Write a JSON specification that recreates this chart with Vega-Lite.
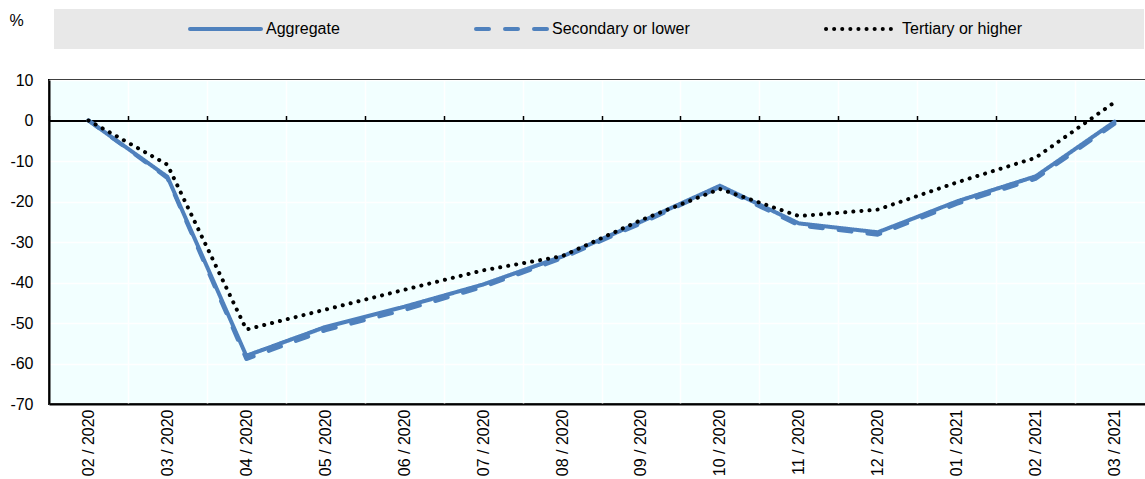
{
  "$schema": "https://vega.github.io/schema/vega-lite/v6.json",
  "width": 1097,
  "height": 324,
  "autosize": {"type": "none"},
  "padding": {"left": 49, "top": 80, "right": -1, "bottom": 75},
  "background": "white",
  "config": {
    "font": "Liberation Sans",
    "view": {"fill": "#f2ffff", "stroke": "black", "strokeWidth": 2},
    "axis": {"labelFont": "Liberation Sans", "labelFontSize": 16, "labelColor": "black", "titleFont": "Liberation Sans", "titleColor": "black"},
    "legend": {"labelFont": "Liberation Sans", "labelFontSize": 16, "labelColor": "black", "titleFont": "Liberation Sans", "titleFontSize": 16}
  },
  "data": {
    "values": [
      {"month": "02 / 2020", "series": "Secondary or lower", "value": 0},
      {"month": "03 / 2020", "series": "Secondary or lower", "value": -14.2},
      {"month": "04 / 2020", "series": "Secondary or lower", "value": -58.9},
      {"month": "05 / 2020", "series": "Secondary or lower", "value": -51.8},
      {"month": "06 / 2020", "series": "Secondary or lower", "value": -46.8},
      {"month": "07 / 2020", "series": "Secondary or lower", "value": -41.1},
      {"month": "08 / 2020", "series": "Secondary or lower", "value": -34},
      {"month": "09 / 2020", "series": "Secondary or lower", "value": -25.4},
      {"month": "10 / 2020", "series": "Secondary or lower", "value": -16.4},
      {"month": "11 / 2020", "series": "Secondary or lower", "value": -25.9},
      {"month": "12 / 2020", "series": "Secondary or lower", "value": -28.2},
      {"month": "01 / 2021", "series": "Secondary or lower", "value": -20.6},
      {"month": "02 / 2021", "series": "Secondary or lower", "value": -14.4},
      {"month": "03 / 2021", "series": "Secondary or lower", "value": -0.8},
      {"month": "02 / 2020", "series": "Aggregate", "value": 0},
      {"month": "03 / 2020", "series": "Aggregate", "value": -13.9},
      {"month": "04 / 2020", "series": "Aggregate", "value": -58.1},
      {"month": "05 / 2020", "series": "Aggregate", "value": -51},
      {"month": "06 / 2020", "series": "Aggregate", "value": -46},
      {"month": "07 / 2020", "series": "Aggregate", "value": -40.5},
      {"month": "08 / 2020", "series": "Aggregate", "value": -33.6},
      {"month": "09 / 2020", "series": "Aggregate", "value": -25},
      {"month": "10 / 2020", "series": "Aggregate", "value": -16.1},
      {"month": "11 / 2020", "series": "Aggregate", "value": -25.4},
      {"month": "12 / 2020", "series": "Aggregate", "value": -27.6},
      {"month": "01 / 2021", "series": "Aggregate", "value": -20},
      {"month": "02 / 2021", "series": "Aggregate", "value": -13.8},
      {"month": "03 / 2021", "series": "Aggregate", "value": -0.3},
      {"month": "02 / 2020", "series": "Tertiary or higher", "value": 0},
      {"month": "03 / 2020", "series": "Tertiary or higher", "value": -10.9},
      {"month": "04 / 2020", "series": "Tertiary or higher", "value": -51.6},
      {"month": "05 / 2020", "series": "Tertiary or higher", "value": -46.7},
      {"month": "06 / 2020", "series": "Tertiary or higher", "value": -41.8},
      {"month": "07 / 2020", "series": "Tertiary or higher", "value": -37},
      {"month": "08 / 2020", "series": "Tertiary or higher", "value": -33.5},
      {"month": "09 / 2020", "series": "Tertiary or higher", "value": -24.6},
      {"month": "10 / 2020", "series": "Tertiary or higher", "value": -16.9},
      {"month": "11 / 2020", "series": "Tertiary or higher", "value": -23.6},
      {"month": "12 / 2020", "series": "Tertiary or higher", "value": -22},
      {"month": "01 / 2021", "series": "Tertiary or higher", "value": -15.3},
      {"month": "02 / 2021", "series": "Tertiary or higher", "value": -9.2},
      {"month": "03 / 2021", "series": "Tertiary or higher", "value": 4.5}
    ]
  },
  "layer": [
    {
      "mark": {"type": "line", "strokeCap": "round", "strokeJoin": "round"},
      "encoding": {
        "x": {
          "field": "month", "type": "ordinal", "bandPosition": 0.5,
          "sort": ["02 / 2020", "03 / 2020", "04 / 2020", "05 / 2020", "06 / 2020", "07 / 2020", "08 / 2020", "09 / 2020", "10 / 2020", "11 / 2020", "12 / 2020", "01 / 2021", "02 / 2021", "03 / 2021"],
          "scale": {"type": "band", "paddingInner": 0, "paddingOuter": 0, "range": [0, 1105]},
          "axis": {"orient": "bottom", "title": null, "labelAngle": -90, "labelPadding": 5, "ticks": false, "tickSize": 0, "domainColor": "black", "domainWidth": 2, "grid": true, "gridColor": "white", "gridWidth": 1.5, "tickBand": "extent"}
        },
        "y": {
          "field": "value", "type": "quantitative",
          "scale": {"domain": [-70, 10], "nice": false},
          "axis": {"title": "%", "titleAngle": 0, "titleX": -33, "titleY": -60, "titleAlign": "center", "titleBaseline": "middle", "titleFontSize": 16, "titleFontWeight": "normal", "values": [-70, -60, -50, -40, -30, -20, -10, 0, 10], "labelExpr": "'' + datum.value", "ticks": false, "tickSize": 0, "labelPadding": 16, "domainColor": "black", "domainWidth": 2, "grid": true, "gridColor": "white", "gridWidth": 1.5}
        },
        "color": {
          "field": "series", "type": "nominal",
          "scale": {"domain": ["Aggregate", "Secondary or lower", "Tertiary or higher"], "range": ["#4f81bd", "#4f81bd", "black"]},
          "legend": {"title": "\u00a0", "titleOrient": "right", "titlePadding": 110, "orient": "none", "legendX": 5, "legendY": -71, "direction": "horizontal", "fillColor": "#e8e8e8", "padding": 12, "symbolType": "stroke", "symbolSize": 5041, "clipHeight": 16, "symbolOffset": 122, "labelOffset": 3, "columnPadding": 12, "labelLimit": 400, "encode": {"symbols": {"update": {"strokeCap": {"value": "round"}}}}}
        },
        "strokeDash": {
          "field": "series", "type": "nominal",
          "scale": {"domain": ["Aggregate", "Secondary or lower", "Tertiary or higher"], "range": [[1, 0], [13, 16], [0.1, 8]]},
          "legend": {"title": "\u00a0"}
        },
        "strokeWidth": {
          "field": "series", "type": "nominal",
          "scale": {"domain": ["Aggregate", "Secondary or lower", "Tertiary or higher"], "range": [4, 4, 3.5]},
          "legend": {"title": "\u00a0"}
        }
      }
    },
    {
      "mark": {"type": "line", "strokeOpacity": 0},
      "encoding": {
        "x": {
          "field": "month", "type": "ordinal", "bandPosition": 0.5,
          "sort": ["02 / 2020", "03 / 2020", "04 / 2020", "05 / 2020", "06 / 2020", "07 / 2020", "08 / 2020", "09 / 2020", "10 / 2020", "11 / 2020", "12 / 2020", "01 / 2021", "02 / 2021", "03 / 2021"],
          "axis": {"orient": "top", "offset": -40.5, "title": null, "labels": false, "ticks": true, "tickSize": 5, "tickColor": "black", "tickWidth": 1.5, "domainColor": "black", "domainWidth": 2, "grid": false, "tickBand": "extent"}
        },
        "y": {
          "field": "value", "type": "quantitative",
          "axis": {"title": "%", "titleAngle": 0, "titleX": -33, "titleY": -60, "titleAlign": "center", "titleBaseline": "middle", "titleFontSize": 16, "titleFontWeight": "normal", "values": [-70, -60, -50, -40, -30, -20, -10, 0, 10], "labelExpr": "'' + datum.value", "ticks": false, "tickSize": 0, "labelPadding": 16, "domainColor": "black", "domainWidth": 2, "grid": true, "gridColor": "white", "gridWidth": 1.5}
        },
        "detail": {"field": "series", "type": "nominal"}
      }
    }
  ],
  "resolve": {"axis": {"x": "independent"}}
}
